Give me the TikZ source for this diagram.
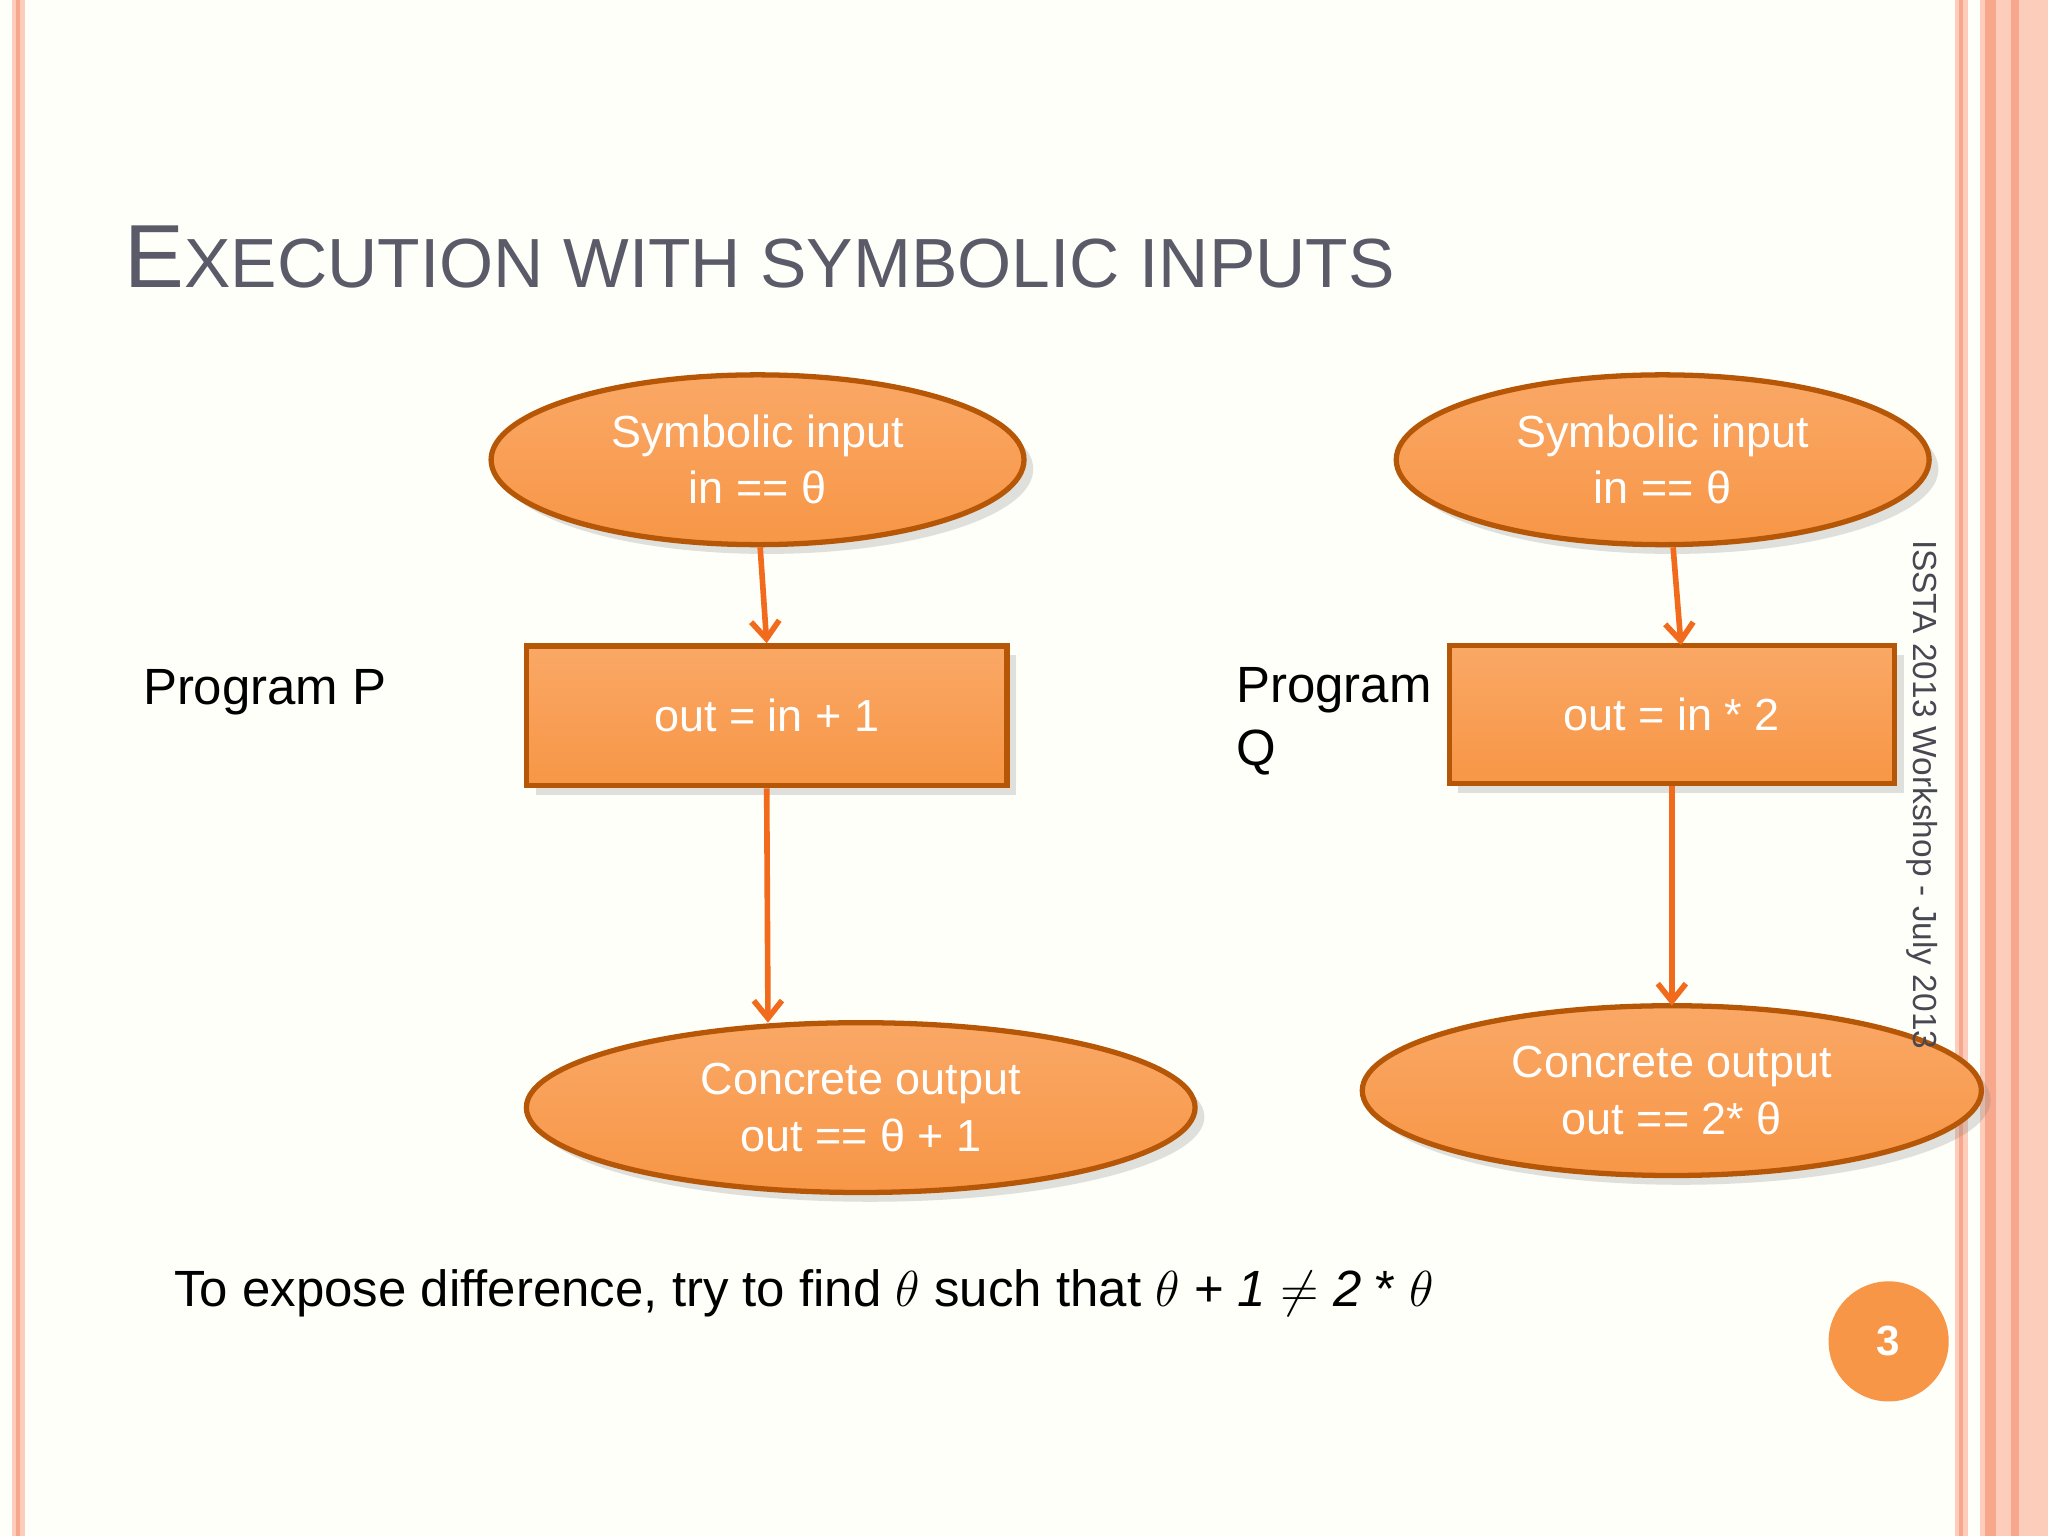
\documentclass[tikz,border=0pt]{standalone}
\usepackage{fontspec}
\setmainfont{Liberation Sans}
\usetikzlibrary{shapes.geometric,arrows.meta,shadows}
\definecolor{org}{HTML}{F79646}
\definecolor{orgl}{HTML}{FAA866}
\definecolor{orgd}{HTML}{B65708}
\definecolor{arr}{HTML}{F26B1D}
\definecolor{titleg}{HTML}{5A5A68}
\definecolor{sal}{HTML}{F7A88C}
\definecolor{sal2}{HTML}{FBCDBA}
\def\myu{0.013061cm}
\tikzset{
  ell/.style={ellipse,draw=orgd,line width=1.5pt,top color=orgl,bottom color=org,text=white,align=center,font=\fontsize{12.8}{16}\selectfont,inner sep=0pt,drop shadow={opacity=0.25}},
  box/.style={rectangle,draw=orgd,line width=1.5pt,top color=orgl,bottom color=org,text=white,font=\fontsize{12.8}{15}\selectfont,inner sep=0pt,drop shadow={opacity=0.25}},
  conn/.style={arr,line width=1.6pt,-{Straight Barb[length=5pt,width=8pt]}},
  lbl/.style={font=\fontsize{14.5}{18}\selectfont,align=left,anchor=west}
}
\begin{document}
\begin{tikzpicture}[x=\myu,y=-\myu]
\fill[white!98!yellow] (0,0) rectangle (1568,1176);
\useasboundingbox (0,0) rectangle (1568,1176);
% borders
\fill[sal2] (9,0) rectangle (19,1176);
\fill[sal] (12,0) rectangle (15,1176);
\fill[sal2] (1497,0) rectangle (1507,1176);
\fill[sal] (1500,0) rectangle (1503,1176);
\fill[sal2] (1516,0) rectangle (1568,1176);
\fill[sal] (1520,0) rectangle (1528,1176);
\fill[sal] (1540,0) rectangle (1546,1176);
% title
\node[anchor=base west,text=titleg,inner sep=0pt] (title) at (95,220) {\fontsize{25.5}{28}\selectfont E\fontsize{19.8}{24}\selectfont XECUTION WITH SYMBOLIC INPUTS};
% left
\node[ell,minimum width=408*\myu,minimum height=130*\myu] (s1) at (580,352) {Symbolic input\\in == θ};
\node[box,minimum width=368*\myu,minimum height=107*\myu] (p1) at (587,548) {out = in + 1};
\node[ell,minimum width=512*\myu,minimum height=130*\myu] (c1) at (659,848) {Concrete output\\out == θ + 1};
% right
\node[ell,minimum width=408*\myu,minimum height=130*\myu] (s2) at (1273,352) {Symbolic input\\in == θ};
\node[box,minimum width=341*\myu,minimum height=106*\myu] (p2) at (1280,547) {out = in * 2};
\node[ell,minimum width=474*\myu,minimum height=130*\myu] (c2) at (1280,835) {Concrete output\\out == 2* θ};
% connectors
\draw[conn] (s1.south) ++(2,0) coordinate (a1) -- (p1.north);
\draw[conn] (p1.south) -- (588,783) coordinate (b1);
\draw[conn] (s2.south) ++(8,0) coordinate (a2) -- (1287,494);
\draw[conn] (p2.south) -- (1280,770) coordinate (b2);
% labels
\node[lbl] (lp) at (100,530) {Program P};
\node[lbl] (lq) at (937,552) {Program\\Q};
\node[rotate=-90,text=titleg!80!black,font=\fontsize{9.5}{11}\selectfont,anchor=west,inner sep=0pt] (foot) at (1472,413) {ISSTA 2013 Workshop - July 2013};
\node[lbl,anchor=base west,inner sep=0pt] (bt) at (133,1000) {To expose difference, try to find \textit{$\theta$} such that \textit{$\theta$} + \textit{1} $\neq$ \textit{2} * \textit{$\theta$}};
\node[circle,fill=org,minimum size=92*\myu,text=white,font=\bfseries\fontsize{12}{14}\selectfont] (pg) at (1446,1027) {3};
\end{tikzpicture}
\end{document}
